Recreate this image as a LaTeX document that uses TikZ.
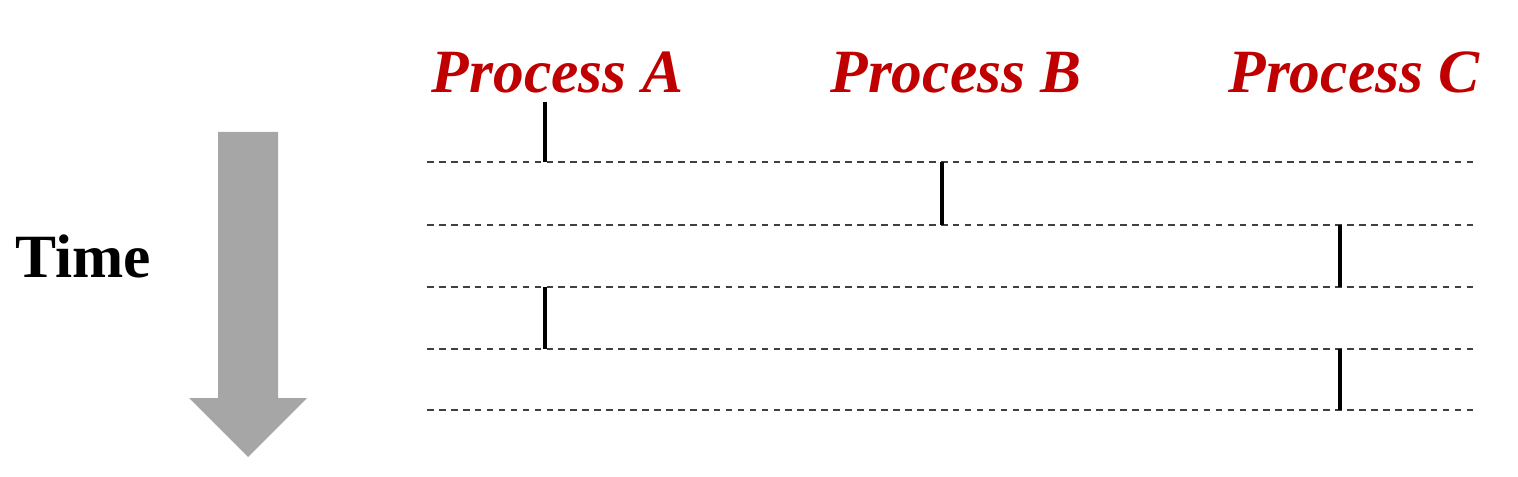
\documentclass[tikz,border=0pt]{standalone}
\usepackage{fontspec}
\setmainfont{Liberation Serif}
\definecolor{procred}{HTML}{C00000}
\definecolor{timegray}{HTML}{A6A6A6}
\tikzset{
	proc/.style={font=\fontsize{17.5}{20}\selectfont\bfseries\itshape,text=procred,anchor=base,inner sep=0pt},
	slot/.style={draw=black!75,line width=0.6pt,dash pattern=on 1.9pt off 1.5pt},
	run/.style={draw=black,line width=1.2pt}
}
\begin{document}
\begin{tikzpicture}[line join=round]
	\useasboundingbox (0,0) rectangle (15.18,4.76);
	\path (0,3.74) coordinate (L0)
	(0,3.14) coordinate (L1)
	(0,2.51) coordinate (L2)
	(0,1.89) coordinate (L3)
	(0,1.27) coordinate (L4)
	(0,0.66) coordinate (L5)
	;
	\foreach \p/\x in {A/5.575,B/9.56,C/13.54}
	\node[proc] (P\p) at (\x,3.83) {Process \p};
	% time slices
	\foreach \i in {1,...,5}{
		\path (L\i) ++(4.27,0) coordinate (S\i) (L\i) ++(14.75,0) coordinate (E\i);
		\draw[slot] (S\i)--(E\i);
	}
	% which process runs in each slice
	\foreach \a/\b/\x in {0/1/5.45,1/2/9.42,2/3/13.40,3/4/5.45,4/5/13.40}
	\draw[run] (L\a -| {\x,0}) coordinate (R\a) -- (L\b -| {\x,0});
	\fill[timegray] (2.18,3.44)--(2.78,3.44)--(2.78,0.78)--(3.07,0.78)
	--(2.48,0.19)--(1.89,0.78)--(2.18,0.78)--cycle;
	\node[font=\fontsize{17.5}{20}\selectfont\bfseries,anchor=base,inner sep=0pt] (time) at (0.835,1.99) {Time};
\end{tikzpicture}
\end{document}
